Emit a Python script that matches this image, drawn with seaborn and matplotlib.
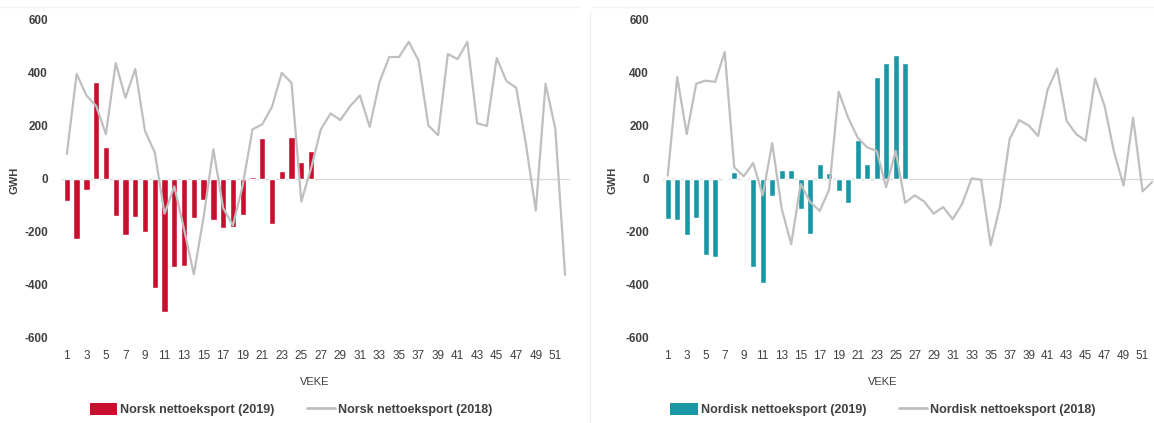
import matplotlib
matplotlib.use("Agg")
import matplotlib.pyplot as plt
import seaborn as sns
from matplotlib.patches import Patch
from matplotlib.lines import Line2D

# Veke 1-52 (2018), veke 1-26 (2019)
weeks_2018 = list(range(1, 53))
weeks_2019 = list(range(1, 27))

norsk_2019 = [-85, -227, -41, 365, 121, -140, -212, -144, -200, -410,
              -502, -331, -327, -147, -81, -156, -187, -181, -137, 7,
              156, -170, 29, 159, 62, 106]
norsk_2018 = [94, 396, 315, 275, 169, 437, 306, 415, 181, 100,
              -131, -28, -190, -360, -144, 112, -110, -175, -25, 187,
              206, 272, 400, 362, -85, 40, 187, 247, 222, 275,
              315, 196, 365, 460, 460, 517, 447, 202, 165, 471,
              452, 517, 210, 200, 456, 369, 344, 130, -120, 359,
              190, -362]

nordisk_2019 = [-150, -156, -212, -146, -287, -294, 3, 27, 4, -331,
                -394, -65, 35, 34, -112, -206, 56, 21, -46, -91,
                146, 56, 385, 437, 469, 437]
nordisk_2018 = [12, 384, 169, 359, 371, 366, 479, 44, 10, 60,
                -62, 135, -112, -246, -19, -87, -121, -40, 329, 231,
                156, 119, 106, -31, 106, -90, -62, -85, -131, -106,
                -152, -94, 2, -3, -250, -100, 150, 222, 202, 162,
                337, 416, 219, 169, 144, 379, 275, 100, -25, 231,
                -47, -12]

y_ticks = [-600, -400, -200, 0, 200, 400, 600]
x_ticks = list(range(1, 52, 2))

RED = "#C8102E"
TEAL = "#1A97A5"
GREY = "#BFBFBF"
TXT = "#404040"

sns.set_style("white")
plt.rcParams["font.family"] = ["Liberation Sans", "DejaVu Sans"]

fig = plt.figure(figsize=(11.54, 4.23), dpi=100)

panels = [
    dict(rect=[0.0537, 0.201, 0.4402, 0.752], xmax=52.5, bars=norsk_2019, line=norsk_2018,
         color=RED, lab19="Norsk nettoeksport (2019)", lab18="Norsk nettoeksport (2018)",
         ylab_x=-0.083, xlab_x=0.498, leg_x=0.252),
    dict(rect=[0.5745, 0.201, 0.4255, 0.752], xmax=52.2, bars=nordisk_2019, line=nordisk_2018,
         color=TEAL, lab19="Nordisk nettoeksport (2019)", lab18="Nordisk nettoeksport (2018)",
         ylab_x=-0.092, xlab_x=0.448, leg_x=0.765),
]

for p in panels:
    ax = fig.add_axes(p["rect"])
    ax.axhline(0, color="#D9D9D9", lw=1, zorder=0)
    sns.barplot(x=weeks_2019, y=p["bars"], native_scale=True, width=0.64,
                color=p["color"], saturation=1, ax=ax, zorder=2)
    sns.lineplot(x=weeks_2018, y=p["line"], color=GREY, lw=1.6, ax=ax, zorder=3)

    ax.set_xlim(0.5, p["xmax"])
    ax.set_ylim(-600, 600)
    ax.set_xticks(x_ticks)
    ax.set_xticklabels([str(t) for t in x_ticks], fontsize=8.5, color=TXT)
    ax.set_yticks(y_ticks)
    ax.set_yticklabels([str(t) for t in y_ticks], fontsize=8.5, color=TXT,
                       fontweight="bold")
    ax.tick_params(axis="both", length=0)
    ax.tick_params(axis="x", pad=9)
    ax.tick_params(axis="y", pad=10)
    sns.despine(ax=ax, left=True, bottom=True)

    ax.set_ylabel("GWH", fontsize=8, color=TXT, fontweight="bold")
    ax.yaxis.set_label_coords(p["ylab_x"], 0.497)
    ax.set_xlabel("VEKE", fontsize=8, color=TXT)
    ax.xaxis.set_label_coords(p["xlab_x"], -0.123)

    handles = [Patch(facecolor=p["color"], edgecolor="none"),
               Line2D([0], [0], color=GREY, lw=2)]
    fig.legend(handles, [p["lab19"], p["lab18"]], loc="center",
               bbox_to_anchor=(p["leg_x"], 0.031), ncol=2, frameon=False,
               handlelength=2.2, handleheight=1.0, handletextpad=0.25,
               columnspacing=2.6, prop={"size": 9, "weight": "bold"},
               labelcolor=TXT)

# faint panel frame lines
fig.add_artist(Line2D([0, 0.502], [0.983, 0.983], color="#F2F2F2", lw=1))
fig.add_artist(Line2D([0.513, 1], [0.983, 0.983], color="#F2F2F2", lw=1))
fig.add_artist(Line2D([0.511, 0.511], [0, 0.975], color="#F0F0F0", lw=1))

fig.savefig("out.png", dpi=100, facecolor="white")
